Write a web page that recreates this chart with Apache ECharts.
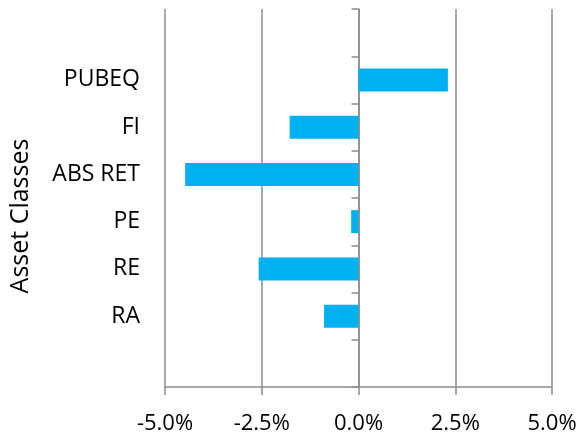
<!DOCTYPE html>
<html>
<head>
<meta charset="utf-8">
<script src="https://cdn.jsdelivr.net/npm/echarts@6/dist/echarts.min.js"></script>
<style>html,body{margin:0;padding:0;background:#fff;}#c{width:581px;height:433px;}</style>
</head>
<body>
<div id="c"></div>
<script>
// categories listed bottom-to-top (blank padding bands at both ends)
const categories = ['', 'RA', 'RE', 'PE', 'ABS RET', 'FI', 'PUBEQ', ''];
const values = [null, -0.89, -2.58, -0.19, -4.48, -1.78, 2.31, null];
const xTicks = [-5, -2.5, 0, 2.5, 5];
const axisTitle = 'Asset Classes';

const gray = '#8c8c8c';
const font = 'Open Sans';
const chart = echarts.init(document.getElementById('c'));
chart.setOption({
  animation: false,
  grid: { left: 165, right: 29, top: 9, bottom: 46, containLabel: false, outerBoundsMode: 'none' },
  xAxis: {
    type: 'value',
    min: xTicks[0], max: xTicks[xTicks.length - 1], interval: 2.5,
    axisLine: { show: true, lineStyle: { color: gray, width: 1.5 } },
    axisTick: { show: true, length: 8, lineStyle: { color: gray, width: 1.5 } },
    splitLine: { show: true, lineStyle: { color: gray, width: 1.5 } },
    axisLabel: { color: '#000', fontFamily: font, fontSize: 22, margin: 26,
      formatter: v => v.toFixed(1) + '%' }
  },
  yAxis: [
    {
      type: 'category', data: categories, position: 'left',
      axisLine: { show: false, onZero: false }, axisTick: { show: false },
      axisLabel: { color: '#000', fontFamily: font, fontSize: 23, margin: 25, interval: 0 },
      name: axisTitle, nameLocation: 'middle', nameRotate: 90, nameGap: 132,
      nameTextStyle: { color: '#000', fontFamily: font, fontSize: 25, padding: [0, 36, 0, 0] }
    },
    {
      type: 'category', data: categories, position: 'left',
      axisLine: { show: true, onZero: true, lineStyle: { color: gray, width: 1.5 } },
      axisTick: { show: true, length: 7, inside: false, lineStyle: { color: gray, width: 1.5 } },
      axisLabel: { show: false }
    }
  ],
  series: [{
    type: 'bar', yAxisIndex: 0, data: values, barWidth: 23,
    itemStyle: { color: '#00B0F0' }
  }]
});
</script>
</body>
</html>
